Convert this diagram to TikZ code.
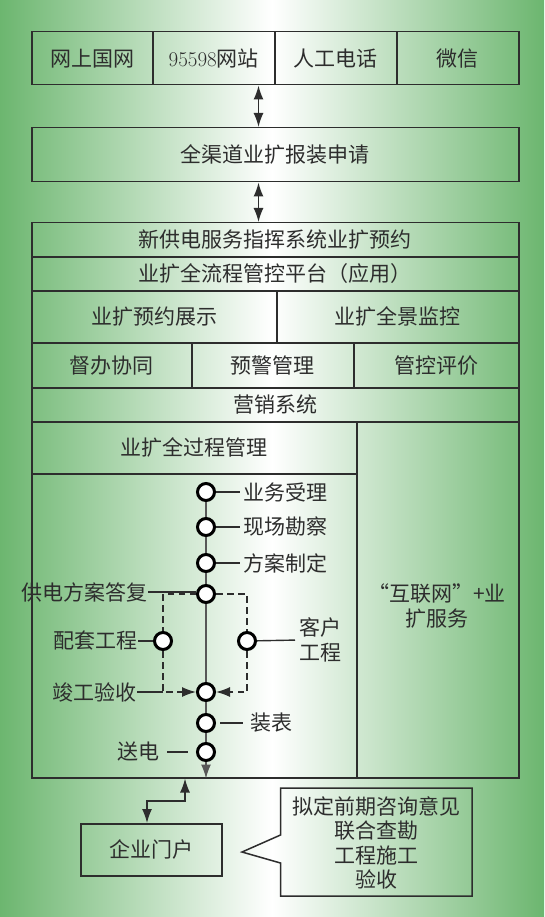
\documentclass[tikz,border=0pt]{standalone}
\usepackage{fontspec}
\newfontfamily\cjkfam{Noto Sans CJK SC}
\newcommand\zhfont{\cjkfam\fontsize{21}{24.5}\selectfont}
\usetikzlibrary{arrows.meta}
\definecolor{bgg}{RGB}{108,182,111}
\definecolor{ink}{RGB}{45,45,45}
\begin{document}
\begin{tikzpicture}[x=1pt,y=-1pt,
  box/.style={draw=ink, line width=1.5pt, inner sep=0pt, font=\zhfont, text=ink, anchor=north west},
  lbl/.style={font=\zhfont, text=ink, inner sep=0pt},
  stepc/.style={circle, draw=black, line width=3pt, fill=white, minimum size=17pt, inner sep=0pt},
  tick/.style={draw=ink, line width=1.4pt},
  vline/.style={draw=ink!80, line width=1.5pt},
  dline/.style={draw=ink, line width=1.4pt, dash pattern=on 6.5pt off 4.5pt},
  arr/.style={-{Latex[length=14pt,width=10pt]}},
  darr/.style={{Latex[length=14pt,width=10pt]}-{Latex[length=14pt,width=10pt]}, draw=ink, line width=1.5pt},
]
\useasboundingbox (0,0) rectangle (544,917);
\shade[left color=bgg, right color=bgg, middle color=white] (0,0) rectangle (544,917);

% top row
\node[box, minimum width=121pt, minimum height=53pt] (c1) at (31,31) {网上国网};
\node[box, minimum width=122pt, minimum height=53pt] (c2) at (152,31) {{\rmfamily 95598}网站};
\node[box, minimum width=122pt, minimum height=53pt] (c3) at (274,31) {人工电话};
\node[box, minimum width=122pt, minimum height=53pt] (c4) at (396,31) {微信};

\node[box, minimum width=487pt, minimum height=54pt] (apply) at (31,127) {全渠道业扩报装申请};

\node[box, minimum width=487pt, minimum height=34pt] (r3) at (31,222) {新供电服务指挥系统业扩预约};
\node[box, minimum width=487pt, minimum height=34pt] (r4) at (31,256) {业扩全流程管控平台（应用）};
\node[box, minimum width=245pt, minimum height=52pt] (r5a) at (31,290) {业扩预约展示};
\node[box, minimum width=242pt, minimum height=52pt] (r5b) at (276,290) {业扩全景监控};
\node[box, minimum width=160pt, minimum height=45pt] (r6a) at (31,342) {督办协同};
\node[box, minimum width=162pt, minimum height=45pt] (r6b) at (191,342) {预警管理};
\node[box, minimum width=165pt, minimum height=45pt] (r6c) at (353,342) {管控评价};
\node[box, minimum width=487pt, minimum height=34pt] (r7) at (31,387) {营销系统};

\node[box, minimum width=487pt, minimum height=356pt] (outer) at (31,421) {};
\node[box, minimum width=325pt, minimum height=356pt] (lcol) at (31,421) {};
\node[box, minimum width=325pt, minimum height=52pt] (ltitle) at (31,421) {业扩全过程管理};
\node[lbl, align=center] (web) at (437,606) {“互联网”+业\\扩服务};

% connectors between layers
\coordinate (ax) at (258.5,0);
\draw[darr] (c2.south -| ax) -- (apply.north -| ax);
\draw[darr] (apply.south -| ax) -- (r3.north -| ax);

% process steps
\node[stepc] (s1) at (206,492) {};
\node[stepc] (s2) at (206,527) {};
\node[stepc] (s3) at (206,563) {};
\node[stepc] (s4) at (206,594) {};
\node[stepc] (sL) at (163,641) {};
\node[stepc] (sR) at (247,641) {};
\node[stepc] (s5) at (206,692) {};
\node[stepc] (s6) at (206,723) {};
\node[stepc] (s7) at (206,752) {};

\draw[vline] (s1) -- (s2) (s2) -- (s3) (s3) -- (s4) (s4) -- (s5) (s5) -- (s6) (s6) -- (s7);
\draw[vline, arr] (s7) -- (s7 |- outer.south);

\draw[dline] (s4) -| (sL);
\draw[dline] (s4) -| (sR);
\draw[dline, arr] (sL) |- (s5);
\draw[dline, arr] (sR) |- (s5);

% labels
\node[lbl, anchor=west] (l1) at (243,492) {业务受理};
\node[lbl, anchor=west] (l2) at (243,527) {现场勘察};
\node[lbl, anchor=west] (l3) at (243,563) {方案制定};
\node[lbl, anchor=east] (l4) at (148,592) {供电方案答复};
\node[lbl, anchor=east] (l5) at (138,641) {配套工程};
\node[lbl, anchor=west, align=left] (l6) at (299,640) {客户\\工程};
\node[lbl, anchor=east] (l7) at (137,692) {竣工验收};
\node[lbl, anchor=west] (l8) at (250,723) {装表};
\node[lbl, anchor=east] (l9) at (160,752) {送电};

\draw[tick, shorten >=3pt] (s1) -- (l1.west);
\draw[tick, shorten >=3pt] (s2) -- (l2.west);
\draw[tick, shorten >=3pt] (s3) -- (l3.west);
\draw[tick] (l4.east) -- (l4.east -| s4.west);
\draw[tick] (l5) -- (sL);
\draw[tick, shorten >=4pt] (sR) -- (l6.west);
\draw[tick] (l7.east) -- (l7.east -| sL);
\draw[tick, shorten <=4pt, shorten >=7pt] (s6) -- (l8.west);
\draw[tick, shorten <=7pt, shorten >=8pt] (l9.east) -- (s7);

% bottom
\node[box, minimum width=141pt, minimum height=52pt] (portal) at (80,823) {企业门户};
\coordinate (pa) at (147,801);
\coordinate (pb) at (185,801);
\draw[darr] (portal.north -| pa) -- (pa) -- (pb) -- (pb |- outer.south);

\node[lbl, align=center] (note) at (376,843) {拟定前期咨询意见\\联合查勘\\工程施工\\验收};
\coordinate (cnw) at (280.5,788);
\coordinate (cne) at (472,788);
\coordinate (cse) at (472,896);
\coordinate (csw) at (280.5,896);
\coordinate (tip) at (242,852);
\draw[draw=ink, line width=1.5pt] (cnw) -- (cne) -- (cse) -- (csw) -- (280.5,863) -- (tip) -- (280.5,835) -- cycle;
\end{tikzpicture}
\end{document}
